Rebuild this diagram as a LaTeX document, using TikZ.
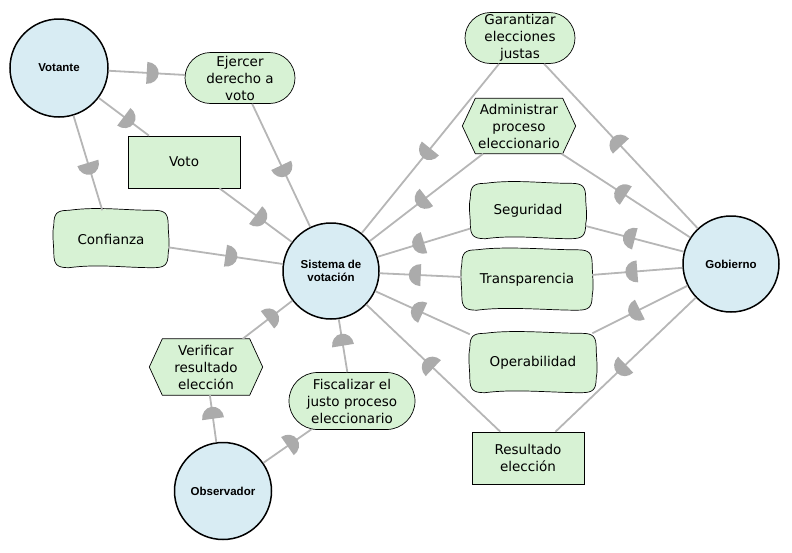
\documentclass[tikz,border=0pt]{standalone}
\usepackage{fontspec}
\setmainfont{DejaVu Sans}
\newfontfamily\actorfont{Liberation Sans}
\usetikzlibrary{shapes.misc,calc,decorations.markings,backgrounds}
\definecolor{actorblue}{HTML}{D8ECF3}
\definecolor{elemgreen}{HTML}{D7F2D4}
\definecolor{linkgray}{HTML}{B6B6B6}
\definecolor{markgray}{HTML}{ABABAB}
\tikzset{
  actor/.style={circle, draw, line width=1.5pt, fill=actorblue, minimum size=96pt, inner sep=0pt, align=center, font=\actorfont\bfseries\fontsize{11.5}{13}\selectfont},
  elem/.style={align=center, inner sep=0pt, font=\fontsize{13.5}{17}\selectfont},
  goal/.style={elem, rounded rectangle, draw, fill=elemgreen, line width=0.7pt},
  resource/.style={elem, rectangle, draw, fill=elemgreen, line width=0.7pt},
  sgbox/.style={elem, rectangle},
  elemline/.style={draw, fill=elemgreen, line width=0.7pt},
  dep/.style={draw=linkgray, line width=1.8pt, postaction={decorate},
    decoration={markings, mark=at position 0.5 with {\fill[markgray] (0,-11) arc[start angle=-90, end angle=90, x radius=12, y radius=11] -- cycle;}}}
}
\begin{document}
\begin{tikzpicture}[x=1pt, y=-1pt]
  \useasboundingbox (0,0) rectangle (792,552);
  % actores
  \node[actor, minimum size=98pt] (vot) at (59,68) {Votante};
  \node[actor] (sis) at (331,271) {Sistema de\\votación};
  \node[actor] (gob) at (731,264) {Gobierno};
  \node[actor, minimum size=97pt] (obs) at (223,491) {Observador};
  % elementos
  \node[goal, minimum width=110pt, minimum height=51pt] (ejer) at (240,78) {Ejercer\\derecho a\\voto};
  \node[resource, minimum width=112pt, minimum height=52pt] (voto) at (184,162) {Voto};
  \node[sgbox, minimum width=114pt, minimum height=57pt] (conf) at (111,239) {Confianza};
  \node[goal, minimum width=110pt, minimum height=51pt] (gar) at (520,38) {Garantizar\\elecciones\\justas};
  \node[sgbox, minimum width=113pt, minimum height=55pt] (adm) at (519,126) {Administrar\\proceso\\eleccionario};
  \node[sgbox, minimum width=115pt, minimum height=55pt] (seg) at (528,211) {Seguridad};
  \node[sgbox, minimum width=130pt, minimum height=60pt] (tra) at (527,280) {Transparencia};
  \node[sgbox, minimum width=126pt, minimum height=59pt] (ope) at (533,363) {Operabilidad};
  \node[resource, minimum width=112pt, minimum height=52pt] (res) at (528,458) {Resultado\\elección};
  \node[sgbox, minimum width=113pt, minimum height=56pt] (ver) at (206,367) {Verificar\\resultado\\elección};
  \node[goal, minimum width=126pt, minimum height=57pt] (fis) at (352,401) {Fiscalizar el\\justo proceso\\eleccionario};
  \begin{pgfonlayer}{background}
    \foreach \n in {conf,seg,tra,ope}
      \draw[elemline] ($(\n.north west)+(15,0)$)
        .. controls +(30,-4) and +(-30,0) .. ($(\n.north east)+(-15,0)$)
        .. controls +(12,0) and +(0,-12) .. ($(\n.north east)+(0,15)$)
        .. controls +(0,8) and +(2,-8) .. ($(\n.south east)+(0,-15)$)
        .. controls +(0,12) and +(12,0) .. ($(\n.south east)+(-15,0)$)
        .. controls +(-30,0) and +(30,-4) .. ($(\n.south west)+(15,0)$)
        .. controls +(-12,0) and +(0,12) .. ($(\n.south west)+(0,-15)$)
        .. controls +(0,-8) and +(-2,8) .. ($(\n.north west)+(0,15)$)
        .. controls +(0,-12) and +(-12,0) .. ($(\n.north west)+(15,0)$) -- cycle;
    \foreach \n in {adm,ver}
      \draw[elemline] (\n.west) -- ($(\n.north west)+(13,0)$) -- ($(\n.north east)+(-13,0)$)
        -- (\n.east) -- ($(\n.south east)+(-13,0)$) -- ($(\n.south west)+(13,0)$) -- cycle;
  \end{pgfonlayer}
  % dependencias
  \foreach \a/\b in {vot/ejer, vot/voto, vot/conf, gob/gar, gob/adm, gob/seg, gob/tra, gob/ope, gob/res, obs/ver, obs/fis} {
    \draw[dep] (\a) -- (\b);
    \draw[dep] (\b) -- (sis);
  }
\end{tikzpicture}
\end{document}
